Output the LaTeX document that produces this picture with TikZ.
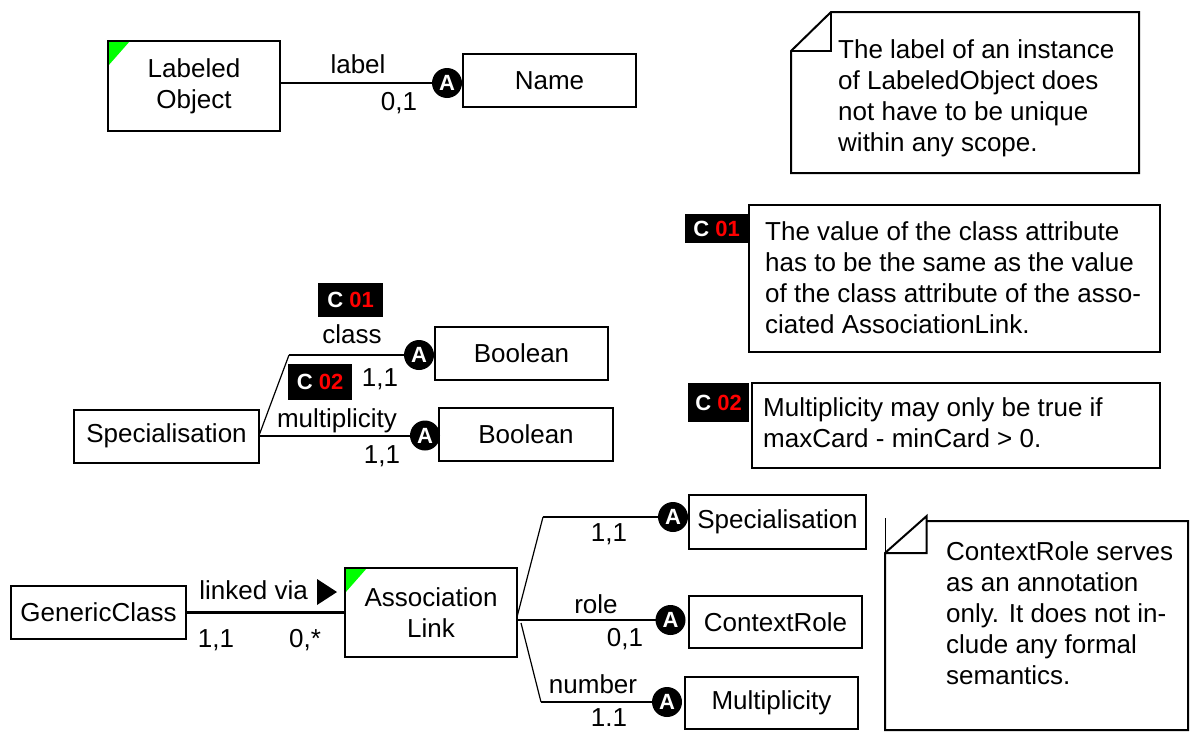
\documentclass[tikz,border=0pt]{standalone}
\usepackage{fontspec}
\setmainfont{Liberation Sans}
\newcommand\myfs{\fontsize{26}{31}\selectfont}
\newcommand\cfs{\fontsize{22}{22}\selectfont\bfseries}
\definecolor{lgreen}{RGB}{0,255,0}
\definecolor{cred}{RGB}{255,0,0}
\begin{document}
\begin{tikzpicture}[x=1pt,y=-1pt,
 box/.style={draw, line width=2pt, inner sep=0pt, outer sep=0pt, font=\myfs, align=center},
 cornered/.style={path picture={\fill[lgreen] (path picture bounding box.north west) -- ++(22pt,0pt) -- ++(-22pt,-25pt) -- cycle;}},
 lbl/.style={font=\myfs, inner sep=0pt, anchor=base},
 attr/.style={circle, fill=black, text=white, font=\fontsize{22}{22}\selectfont\bfseries, inner sep=0pt, minimum size=30pt},
 ctag/.style={fill=black, inner sep=0pt, font=\cfs},
 conn/.style={line width=2pt},
 slant/.style={line width=1.2pt},
 notebox/.style={line width=2pt, line join=miter},
 notetext/.style={font=\myfs, inner sep=0pt, anchor=north west, align=left}]
\useasboundingbox (0,0) rectangle (1190,731);
\fill[white] (0,0) rectangle (1190,731);

% ---------- Labeled Object ----------
\node[box, cornered, minimum width=172pt, minimum height=90pt] (lo) at (194,86) {Labeled\\Object};
\node[box, minimum width=173pt, minimum height=53pt] (name) at (549.5,80.5) {Name};
\draw[conn] (lo.east |- 0,83) coordinate (lo1) -- (447,83) coordinate (a1c);
\node[attr] (a1) at (a1c) {A};
\node[lbl] (l1) at (358,73) {label};
\node[lbl] (m1) at (399,110) {0,1};

% ---------- Note 1 ----------
\draw[notebox] (831,12) -- (1139,12) -- (1139,173) -- (791,173) -- (791,51) -- cycle;
\draw[notebox] (831,12) -- (831,51) -- (791,51);
\node[notetext] (n1) at (838,39.5) {The label of an instance\\of LabeledObject does\\not have to be unique\\within any scope.};

% ---------- Specialisation ----------
\node[box, minimum width=185pt, minimum height=53pt] (spec) at (166.5,436) {Specialisation};
\node[box, minimum width=173pt, minimum height=53pt] (bool1) at (521.5,353.5) {Boolean};
\node[box, minimum width=174pt, minimum height=53pt] (bool2) at (526,434.5) {Boolean};
\coordinate (k1) at (289,355);
\coordinate (a2c) at (419,355);
\coordinate (a3c) at (425,435.5);
\draw[conn] (spec.east |- a3c) -- (a3c);
\draw[slant] (spec.east |- a3c) -- (k1);
\draw[conn] (k1) -- (a2c);
\node[attr] (a2) at (a2c) {A};
\node[attr] (a3) at (a3c) {A};
\node[ctag, minimum width=65pt, minimum height=34pt] (c1a) at (350.5,300) {\textcolor{white}{C} \textcolor{cred}{01}};
\node[ctag, minimum width=64pt, minimum height=36pt] (c2a) at (320,382) {\textcolor{white}{C} \textcolor{cred}{02}};
\node[lbl] (l2) at (352,343) {class};
\node[lbl] (m2) at (380,386) {1,1};
\node[lbl] (l3) at (337,427) {multiplicity};
\node[lbl] (m3) at (382,463) {1,1};

% ---------- Constraint notes ----------
\draw[notebox] (749,205) rectangle (1160,352);
\node[ctag, minimum width=63pt, minimum height=29pt] (c1b) at (716.5,228.5) {\textcolor{white}{C} \textcolor{cred}{01}};
\node[notetext] (n2) at (765,221.5) {The value of the class attribute\\has to be the same as the value\\of the class attribute of the asso-\\ciated AssociationLink.};
\draw[notebox] (752,383) rectangle (1160,468);
\node[ctag, minimum width=61pt, minimum height=39pt] (c2b) at (718.5,402.5) {\textcolor{white}{C} \textcolor{cred}{02}};
\node[notetext] (n3) at (763,397.5) {Multiplicity may only be true if\\maxCard - minCard > 0.};

% ---------- Association Link ----------
\node[box, minimum width=175pt, minimum height=53pt] (gc) at (98.5,612.5) {GenericClass};
\node[box, cornered, minimum width=172pt, minimum height=89pt] (al) at (431,612.5) {Association\\Link};
\draw[line width=3pt] (gc.east) -- (al.west);
\fill (317,579) -- (337,592) -- (317,605) -- cycle;
\node[lbl] (l4) at (253.6,599.3) {linked via};
\node[lbl] (m4) at (216,647.7) {1,1};
\node[lbl] (m5) at (305,647.7) {0,*};

\node[box, minimum width=177pt, minimum height=54pt] (spec2) at (777.5,522) {Specialisation};
\node[box, minimum width=173pt, minimum height=52pt] (cr) at (775.5,622) {ContextRole};
\node[box, minimum width=173pt, minimum height=52pt] (mult) at (771.5,703) {Multiplicity};
\coordinate (a4c) at (673,517);
\coordinate (a5c) at (670.5,620);
\coordinate (a6c) at (667,702);
\coordinate (k2) at (543,517);
\coordinate (k3) at (541,702);
\coordinate (s3) at (521,623);
\draw[slant] (al.east |- 0,617) -- (k2);
\draw[conn] (k2) -- (a4c);
\draw[conn] (al.east |- a5c) -- (a5c);
\draw[slant] (s3) -- (k3);
\draw[conn] (k3) -- (a6c);
\node[attr] (a4) at (a4c) {A};
\node[attr] (a5) at (a5c) {A};
\node[attr] (a6) at (a6c) {A};
\node[lbl] (m6) at (609,541.7) {1,1};
\node[lbl] (l5) at (596,613) {role};
\node[lbl] (m7) at (625,646.7) {0,1};
\node[lbl] (l6) at (593,693) {number};
\node[lbl] (m8) at (609,726) {1.1};

% ---------- Note 4 ----------
\draw[notebox] (926.7,521) -- (1188,521) -- (1188,730) -- (885,730) -- (885,553) -- (926.7,516) -- (926.7,553) -- (885,553);
\draw[line width=1pt] (885,518) -- (885,553);
\node[notetext] (n4) at (946,541.8) {ContextRole serves\\as an annotation\\only. It does not in-\\clude any formal\\semantics.};
\end{tikzpicture}
\end{document}
